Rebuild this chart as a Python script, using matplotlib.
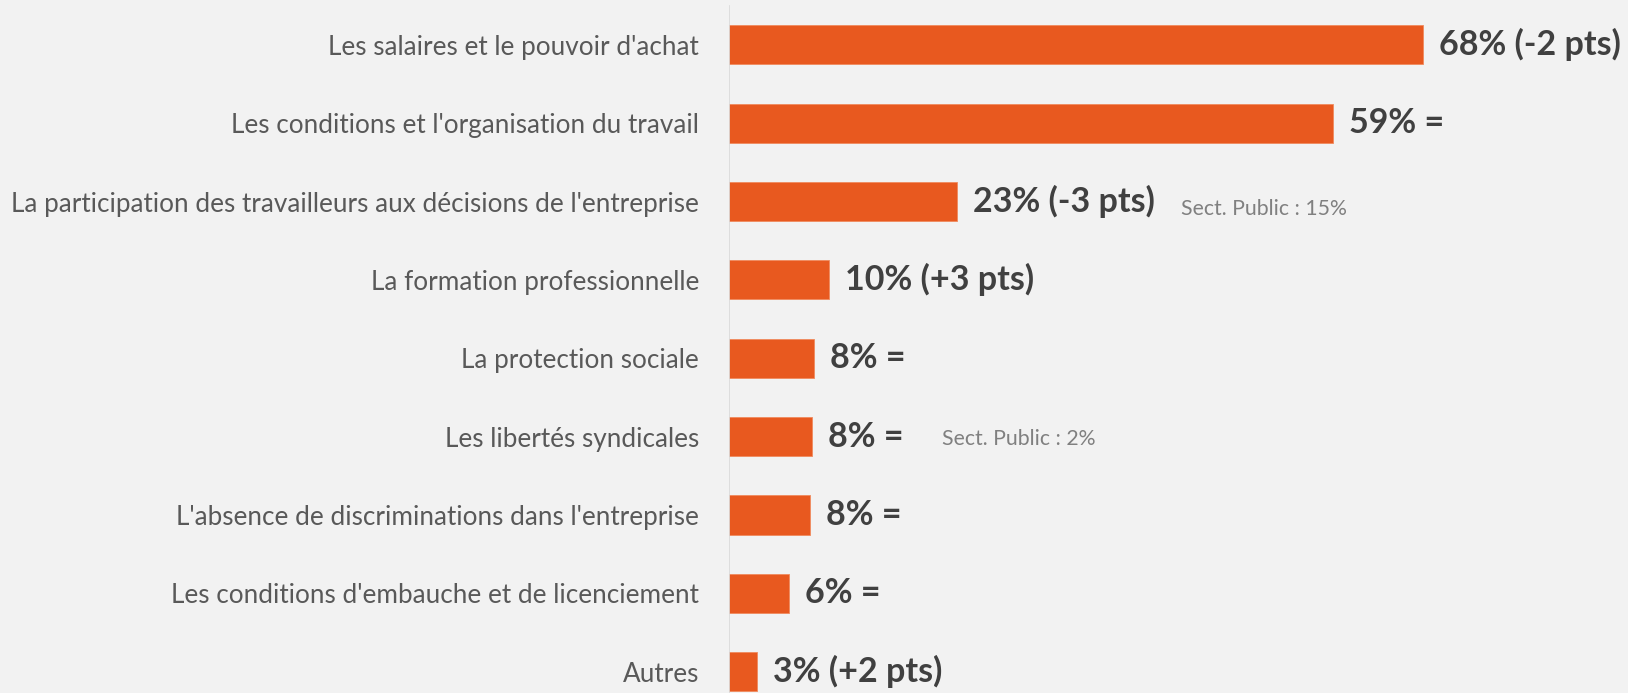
import matplotlib
matplotlib.use("Agg")
import matplotlib.pyplot as plt

# categories, top to bottom
categories = [
    "Les salaires et le pouvoir d'achat",
    "Les conditions et l'organisation du travail",
    "La participation des travailleurs aux décisions de l'entreprise",
    "La formation professionnelle",
    "La protection sociale",
    "Les libertés syndicales",
    "L'absence de discriminations dans l'entreprise",
    "Les conditions d'embauche et de licenciement",
    "Autres",
]
values = [68.0, 59.2, 22.4, 9.8, 8.3, 8.1, 7.9, 5.9, 2.7]
value_labels = [
    "68% (-2 pts)", "59% =", "23% (-3 pts)", "10% (+3 pts)",
    "8% =", "8% =", "8% =", "6% =", "3% (+2 pts)",
]
notes = {2: "Sect. Public : 15%", 5: "Sect. Public : 2%"}

BG = "#F2F2F2"
BAR = "#E8591F"
W, H = 1628, 693
PX_PER_PCT = 10.2
AX_LEFT = 729

fig = plt.figure(figsize=(W / 100, H / 100), dpi=100, facecolor=BG)
ax = fig.add_axes([AX_LEFT / W, 0, 1 - AX_LEFT / W, 1])
ax.set_facecolor(BG)

ypos = list(range(len(categories)))
ax.barh(ypos, values, height=0.5, color=BAR, edgecolor="#F08A5D", linewidth=0.6)

ax.set_xlim(0, (W - AX_LEFT) / PX_PER_PCT)
step = 78.36
ax.set_ylim(8 + 21.3 / step, -44.8 / step)

for s in ax.spines.values():
    s.set_visible(False)
ax.set_xticks([])
ax.set_yticks(ypos)
ax.set_yticklabels(categories, fontsize=18.8, color="#595959", family="Lato")
ax.tick_params(axis="y", length=0, pad=21.5)
ax.axvline(0, ymin=0, ymax=1 - 6 / H, color="#D9D9D9", linewidth=1.2)

pad = 16 / PX_PER_PCT
for y, v, lab in zip(ypos, values, value_labels):
    ax.text(v + pad, y, lab, va="center", ha="left", fontsize=24.5,
            fontweight="bold", color="#404040", family="Lato")

note_x = {2: (1181 - AX_LEFT) / PX_PER_PCT, 5: (942 - AX_LEFT) / PX_PER_PCT}
note_dy = {2: 0.1, 5: 0.03}
for i, txt in notes.items():
    ax.text(note_x[i], i + note_dy[i], txt, va="center", ha="left", fontsize=15.3,
            color="#808080", family="Lato")

fig.savefig("out.png", dpi=100, facecolor=BG)
